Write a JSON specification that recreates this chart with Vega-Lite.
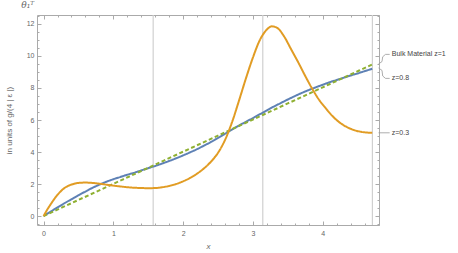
{
  "$schema": "https://vega.github.io/schema/vega-lite/v6.json",
  "width": 342,
  "height": 210,
  "autosize": {"type": "none"},
  "padding": {"left": 37, "top": 15, "right": 79, "bottom": 28},
  "background": "white",
  "title": {"text": "θ₁ᵀ", "anchor": "start", "dx": 16, "offset": 4, "fontSize": 9, "fontStyle": "italic", "font": "DejaVu Serif", "color": "#666", "fontWeight": "normal"},
  "datasets": {
    "curves": [
      {"s": "z=0.8", "x": 0, "y": 0}, {"s": "z=0.8", "x": 0.1, "y": 0.27}, {"s": "z=0.8", "x": 0.2, "y": 0.54}, {"s": "z=0.8", "x": 0.3, "y": 0.8}, {"s": "z=0.8", "x": 0.4, "y": 1.05}, {"s": "z=0.8", "x": 0.5, "y": 1.3}, {"s": "z=0.8", "x": 0.6, "y": 1.53}, {"s": "z=0.8", "x": 0.7, "y": 1.76}, {"s": "z=0.8", "x": 0.8, "y": 1.96}, {"s": "z=0.8", "x": 0.9, "y": 2.14}, {"s": "z=0.8", "x": 1.0, "y": 2.3}, {"s": "z=0.8", "x": 1.1, "y": 2.44}, {"s": "z=0.8", "x": 1.2, "y": 2.58}, {"s": "z=0.8", "x": 1.3, "y": 2.71}, {"s": "z=0.8", "x": 1.4, "y": 2.85}, {"s": "z=0.8", "x": 1.5, "y": 2.99}, {"s": "z=0.8", "x": 1.6, "y": 3.13}, {"s": "z=0.8", "x": 1.7, "y": 3.28}, {"s": "z=0.8", "x": 1.8, "y": 3.44}, {"s": "z=0.8", "x": 1.9, "y": 3.61}, {"s": "z=0.8", "x": 2.0, "y": 3.79}, {"s": "z=0.8", "x": 2.1, "y": 3.98}, {"s": "z=0.8", "x": 2.2, "y": 4.18}, {"s": "z=0.8", "x": 2.3, "y": 4.4}, {"s": "z=0.8", "x": 2.4, "y": 4.63}, {"s": "z=0.8", "x": 2.5, "y": 4.88}, {"s": "z=0.8", "x": 2.6, "y": 5.14}, {"s": "z=0.8", "x": 2.7, "y": 5.4}, {"s": "z=0.8", "x": 2.8, "y": 5.65}, {"s": "z=0.8", "x": 2.9, "y": 5.89}, {"s": "z=0.8", "x": 3.0, "y": 6.12}, {"s": "z=0.8", "x": 3.1, "y": 6.36}, {"s": "z=0.8", "x": 3.2, "y": 6.6}, {"s": "z=0.8", "x": 3.3, "y": 6.84}, {"s": "z=0.8", "x": 3.4, "y": 7.06}, {"s": "z=0.8", "x": 3.5, "y": 7.28}, {"s": "z=0.8", "x": 3.6, "y": 7.49}, {"s": "z=0.8", "x": 3.7, "y": 7.69}, {"s": "z=0.8", "x": 3.8, "y": 7.87}, {"s": "z=0.8", "x": 3.9, "y": 8.04}, {"s": "z=0.8", "x": 4.0, "y": 8.2}, {"s": "z=0.8", "x": 4.1, "y": 8.36}, {"s": "z=0.8", "x": 4.2, "y": 8.5}, {"s": "z=0.8", "x": 4.3, "y": 8.64}, {"s": "z=0.8", "x": 4.4, "y": 8.78}, {"s": "z=0.8", "x": 4.5, "y": 8.91}, {"s": "z=0.8", "x": 4.6, "y": 9.05}, {"s": "z=0.8", "x": 4.71, "y": 9.2},
      {"s": "z=1", "x": 0, "y": 0}, {"s": "z=1", "x": 0.5, "y": 1.005}, {"s": "z=1", "x": 1.0, "y": 2.01}, {"s": "z=1", "x": 1.5, "y": 3.015}, {"s": "z=1", "x": 2.0, "y": 4.02}, {"s": "z=1", "x": 2.5, "y": 5.025}, {"s": "z=1", "x": 3.0, "y": 6.03}, {"s": "z=1", "x": 3.5, "y": 7.035}, {"s": "z=1", "x": 4.0, "y": 8.04}, {"s": "z=1", "x": 4.5, "y": 9.045}, {"s": "z=1", "x": 4.71, "y": 9.467},
      {"s": "z=0.3", "x": 0, "y": 0}, {"s": "z=0.3", "x": 0.05, "y": 0.38}, {"s": "z=0.3", "x": 0.1, "y": 0.72}, {"s": "z=0.3", "x": 0.15, "y": 1.04}, {"s": "z=0.3", "x": 0.2, "y": 1.33}, {"s": "z=0.3", "x": 0.25, "y": 1.56}, {"s": "z=0.3", "x": 0.3, "y": 1.75}, {"s": "z=0.3", "x": 0.35, "y": 1.88}, {"s": "z=0.3", "x": 0.4, "y": 1.97}, {"s": "z=0.3", "x": 0.45, "y": 2.03}, {"s": "z=0.3", "x": 0.5, "y": 2.07}, {"s": "z=0.3", "x": 0.6, "y": 2.09}, {"s": "z=0.3", "x": 0.7, "y": 2.07}, {"s": "z=0.3", "x": 0.8, "y": 2.02}, {"s": "z=0.3", "x": 0.9, "y": 1.96}, {"s": "z=0.3", "x": 1.0, "y": 1.9}, {"s": "z=0.3", "x": 1.1, "y": 1.85}, {"s": "z=0.3", "x": 1.2, "y": 1.8}, {"s": "z=0.3", "x": 1.3, "y": 1.77}, {"s": "z=0.3", "x": 1.4, "y": 1.75}, {"s": "z=0.3", "x": 1.5, "y": 1.74}, {"s": "z=0.3", "x": 1.6, "y": 1.75}, {"s": "z=0.3", "x": 1.7, "y": 1.8}, {"s": "z=0.3", "x": 1.8, "y": 1.88}, {"s": "z=0.3", "x": 1.9, "y": 2.0}, {"s": "z=0.3", "x": 2.0, "y": 2.17}, {"s": "z=0.3", "x": 2.1, "y": 2.38}, {"s": "z=0.3", "x": 2.2, "y": 2.65}, {"s": "z=0.3", "x": 2.3, "y": 2.98}, {"s": "z=0.3", "x": 2.4, "y": 3.4}, {"s": "z=0.3", "x": 2.5, "y": 3.95}, {"s": "z=0.3", "x": 2.6, "y": 4.75}, {"s": "z=0.3", "x": 2.7, "y": 5.85}, {"s": "z=0.3", "x": 2.8, "y": 7.2}, {"s": "z=0.3", "x": 2.9, "y": 8.6}, {"s": "z=0.3", "x": 3.0, "y": 9.9}, {"s": "z=0.3", "x": 3.1, "y": 11.0}, {"s": "z=0.3", "x": 3.2, "y": 11.65}, {"s": "z=0.3", "x": 3.27, "y": 11.85}, {"s": "z=0.3", "x": 3.35, "y": 11.75}, {"s": "z=0.3", "x": 3.45, "y": 11.2}, {"s": "z=0.3", "x": 3.55, "y": 10.4}, {"s": "z=0.3", "x": 3.65, "y": 9.6}, {"s": "z=0.3", "x": 3.75, "y": 8.75}, {"s": "z=0.3", "x": 3.85, "y": 7.95}, {"s": "z=0.3", "x": 3.95, "y": 7.25}, {"s": "z=0.3", "x": 4.05, "y": 6.7}, {"s": "z=0.3", "x": 4.15, "y": 6.2}, {"s": "z=0.3", "x": 4.25, "y": 5.82}, {"s": "z=0.3", "x": 4.35, "y": 5.55}, {"s": "z=0.3", "x": 4.45, "y": 5.37}, {"s": "z=0.3", "x": 4.55, "y": 5.26}, {"s": "z=0.3", "x": 4.65, "y": 5.21}, {"s": "z=0.3", "x": 4.71, "y": 5.2}
    ],
    "vlines": [{"v": 1.5708}, {"v": 3.1416}, {"v": 4.7124}],
    "labels": [
      {"t": "Bulk Material z=1", "tx": 4.99, "ty": 10.1},
      {"t": "z=0.8", "tx": 4.99, "ty": 8.6},
      {"t": "z=0.3", "tx": 4.99, "ty": 5.2}
    ],
    "connectors": [
      {"g": "a", "o": 1, "cx": 4.80, "cy": 9.5}, {"g": "a", "o": 2, "cx": 4.85, "cy": 9.65}, {"g": "a", "o": 3, "cx": 4.86, "cy": 9.95}, {"g": "a", "o": 4, "cx": 4.9, "cy": 10.1}, {"g": "a", "o": 5, "cx": 4.96, "cy": 10.1},
      {"g": "b", "o": 1, "cx": 4.80, "cy": 9.25}, {"g": "b", "o": 2, "cx": 4.85, "cy": 9.1}, {"g": "b", "o": 3, "cx": 4.86, "cy": 8.75}, {"g": "b", "o": 4, "cx": 4.9, "cy": 8.6}, {"g": "b", "o": 5, "cx": 4.96, "cy": 8.6},
      {"g": "c", "o": 1, "cx": 4.80, "cy": 5.2}, {"g": "c", "o": 2, "cx": 4.96, "cy": 5.2}
    ]
  },
  "layer": [
    {
      "data": {"name": "vlines"},
      "mark": {"type": "rule", "color": "#d0d0d0", "strokeWidth": 1.2},
      "encoding": {
        "x": {"field": "v", "type": "quantitative", "scale": {"domain": [-0.094, 4.807], "nice": false, "zero": false}, "axis": null}
      }
    },
    {
      "data": {"name": "curves"},
      "mark": {"type": "line", "interpolate": "monotone", "strokeWidth": 2},
      "encoding": {
        "x": {"field": "x", "type": "quantitative", "scale": {"domain": [-0.094, 4.807], "nice": false, "zero": false},
          "axis": {"orient": "bottom", "values": [0,0.2,0.4,0.6,0.8,1,1.2,1.4,1.6,1.8,2,2.2,2.4,2.6,2.8,3,3.2,3.4,3.6,3.8,4,4.2,4.4,4.6,4.8],
            "labelExpr": "datum.value % 1 === 0 ? format(datum.value, 'd') : ''",
            "tickSize": {"condition": {"test": "datum.value % 1 === 0", "value": -4}, "value": -2},
            "labelPadding": 8, "title": "x", "titleFontStyle": "italic", "titlePadding": 6, "titleFontSize": 8}},
        "y": {"field": "y", "type": "quantitative", "scale": {"domain": [-0.56, 12.56], "nice": false, "zero": false},
          "axis": {"orient": "left", "values": [-0.5,0,0.5,1,1.5,2,2.5,3,3.5,4,4.5,5,5.5,6,6.5,7,7.5,8,8.5,9,9.5,10,10.5,11,11.5,12,12.5],
            "labelExpr": "datum.value % 2 === 0 ? format(datum.value, 'd') : ''",
            "tickSize": {"condition": {"test": "datum.value % 2 === 0", "value": -4}, "value": -2},
            "labelPadding": 7, "title": "in units of g/(4 | ε |)", "titlePadding": 13, "titleFontSize": 8}},
        "color": {"field": "s", "type": "nominal", "scale": {"domain": ["z=0.3", "z=0.8", "z=1"], "range": ["#E19C24", "#5E81B5", "#8FB032"]}, "legend": null},
        "strokeDash": {"field": "s", "type": "nominal", "scale": {"domain": ["z=0.3", "z=0.8", "z=1"], "range": [[1, 0], [1, 0], [4, 2.5]]}, "legend": null},
        "order": {"field": "x", "type": "quantitative"}
      }
    },
    {
      "data": {"name": "connectors"},
      "mark": {"type": "line", "color": "#999", "strokeWidth": 0.8},
      "encoding": {
        "x": {"field": "cx", "type": "quantitative", "scale": {"domain": [-0.094, 4.807], "nice": false, "zero": false}, "axis": null},
        "y": {"field": "cy", "type": "quantitative", "scale": {"domain": [-0.56, 12.56], "nice": false, "zero": false}, "axis": null},
        "detail": {"field": "g"},
        "order": {"field": "o", "type": "quantitative"}
      }
    },
    {
      "data": {"name": "labels"},
      "mark": {"type": "text", "align": "left", "baseline": "middle", "fontSize": 7, "font": "Liberation Sans", "color": "#444"},
      "encoding": {
        "x": {"field": "tx", "type": "quantitative", "scale": {"domain": [-0.094, 4.807], "nice": false, "zero": false},
          "axis": {"orient": "top", "values": [0,0.2,0.4,0.6,0.8,1,1.2,1.4,1.6,1.8,2,2.2,2.4,2.6,2.8,3,3.2,3.4,3.6,3.8,4,4.2,4.4,4.6,4.8],
            "labels": false, "title": null,
            "tickSize": {"condition": {"test": "datum.value % 1 === 0", "value": -4}, "value": -2}}},
        "y": {"field": "ty", "type": "quantitative", "scale": {"domain": [-0.56, 12.56], "nice": false, "zero": false},
          "axis": {"orient": "right", "values": [-0.5,0,0.5,1,1.5,2,2.5,3,3.5,4,4.5,5,5.5,6,6.5,7,7.5,8,8.5,9,9.5,10,10.5,11,11.5,12,12.5],
            "labels": false, "title": null,
            "tickSize": {"condition": {"test": "datum.value % 2 === 0", "value": -4}, "value": -2}}},
        "text": {"field": "t"}
      }
    }
  ],
  "resolve": {"axis": {"x": "independent", "y": "independent"}},
  "config": {
    "view": {"stroke": null},
    "axis": {"domainColor": "#aaa", "tickColor": "#aaa", "labelColor": "#666", "labelFont": "Liberation Sans", "labelFontSize": 7, "titleFont": "Liberation Sans", "titleColor": "#666", "titleFontWeight": "normal", "grid": false}
  }
}
